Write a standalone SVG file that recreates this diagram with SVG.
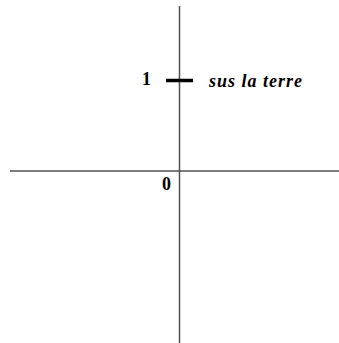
<svg xmlns="http://www.w3.org/2000/svg" width="339" height="343" viewBox="0 0 339 343">
<style>
.axis{stroke:#505050;stroke-width:1.5;fill:none}
.tick{stroke:#000;stroke-width:3.5}
.lbl{font-family:"Liberation Serif","Times New Roman",serif;font-weight:bold;font-size:18px;fill:#000}
</style>
<rect width="339" height="343" fill="#fff"/>
<g id="axes">
<line class="axis" x1="179.5" y1="6" x2="179.5" y2="343"/>
<line class="axis" x1="10" y1="171" x2="339" y2="171"/>
</g>
<g id="tick1">
<line class="tick" x1="166" y1="80.5" x2="193" y2="80.5"/>
<text class="lbl" x="142" y="85">1</text>
<text class="lbl" x="209" y="86.5" font-style="italic" font-size="19" textLength="93" lengthAdjust="spacing">sus la terre</text>
</g>
<g id="origin">
<text class="lbl" x="162" y="190">0</text>
</g>
</svg>
